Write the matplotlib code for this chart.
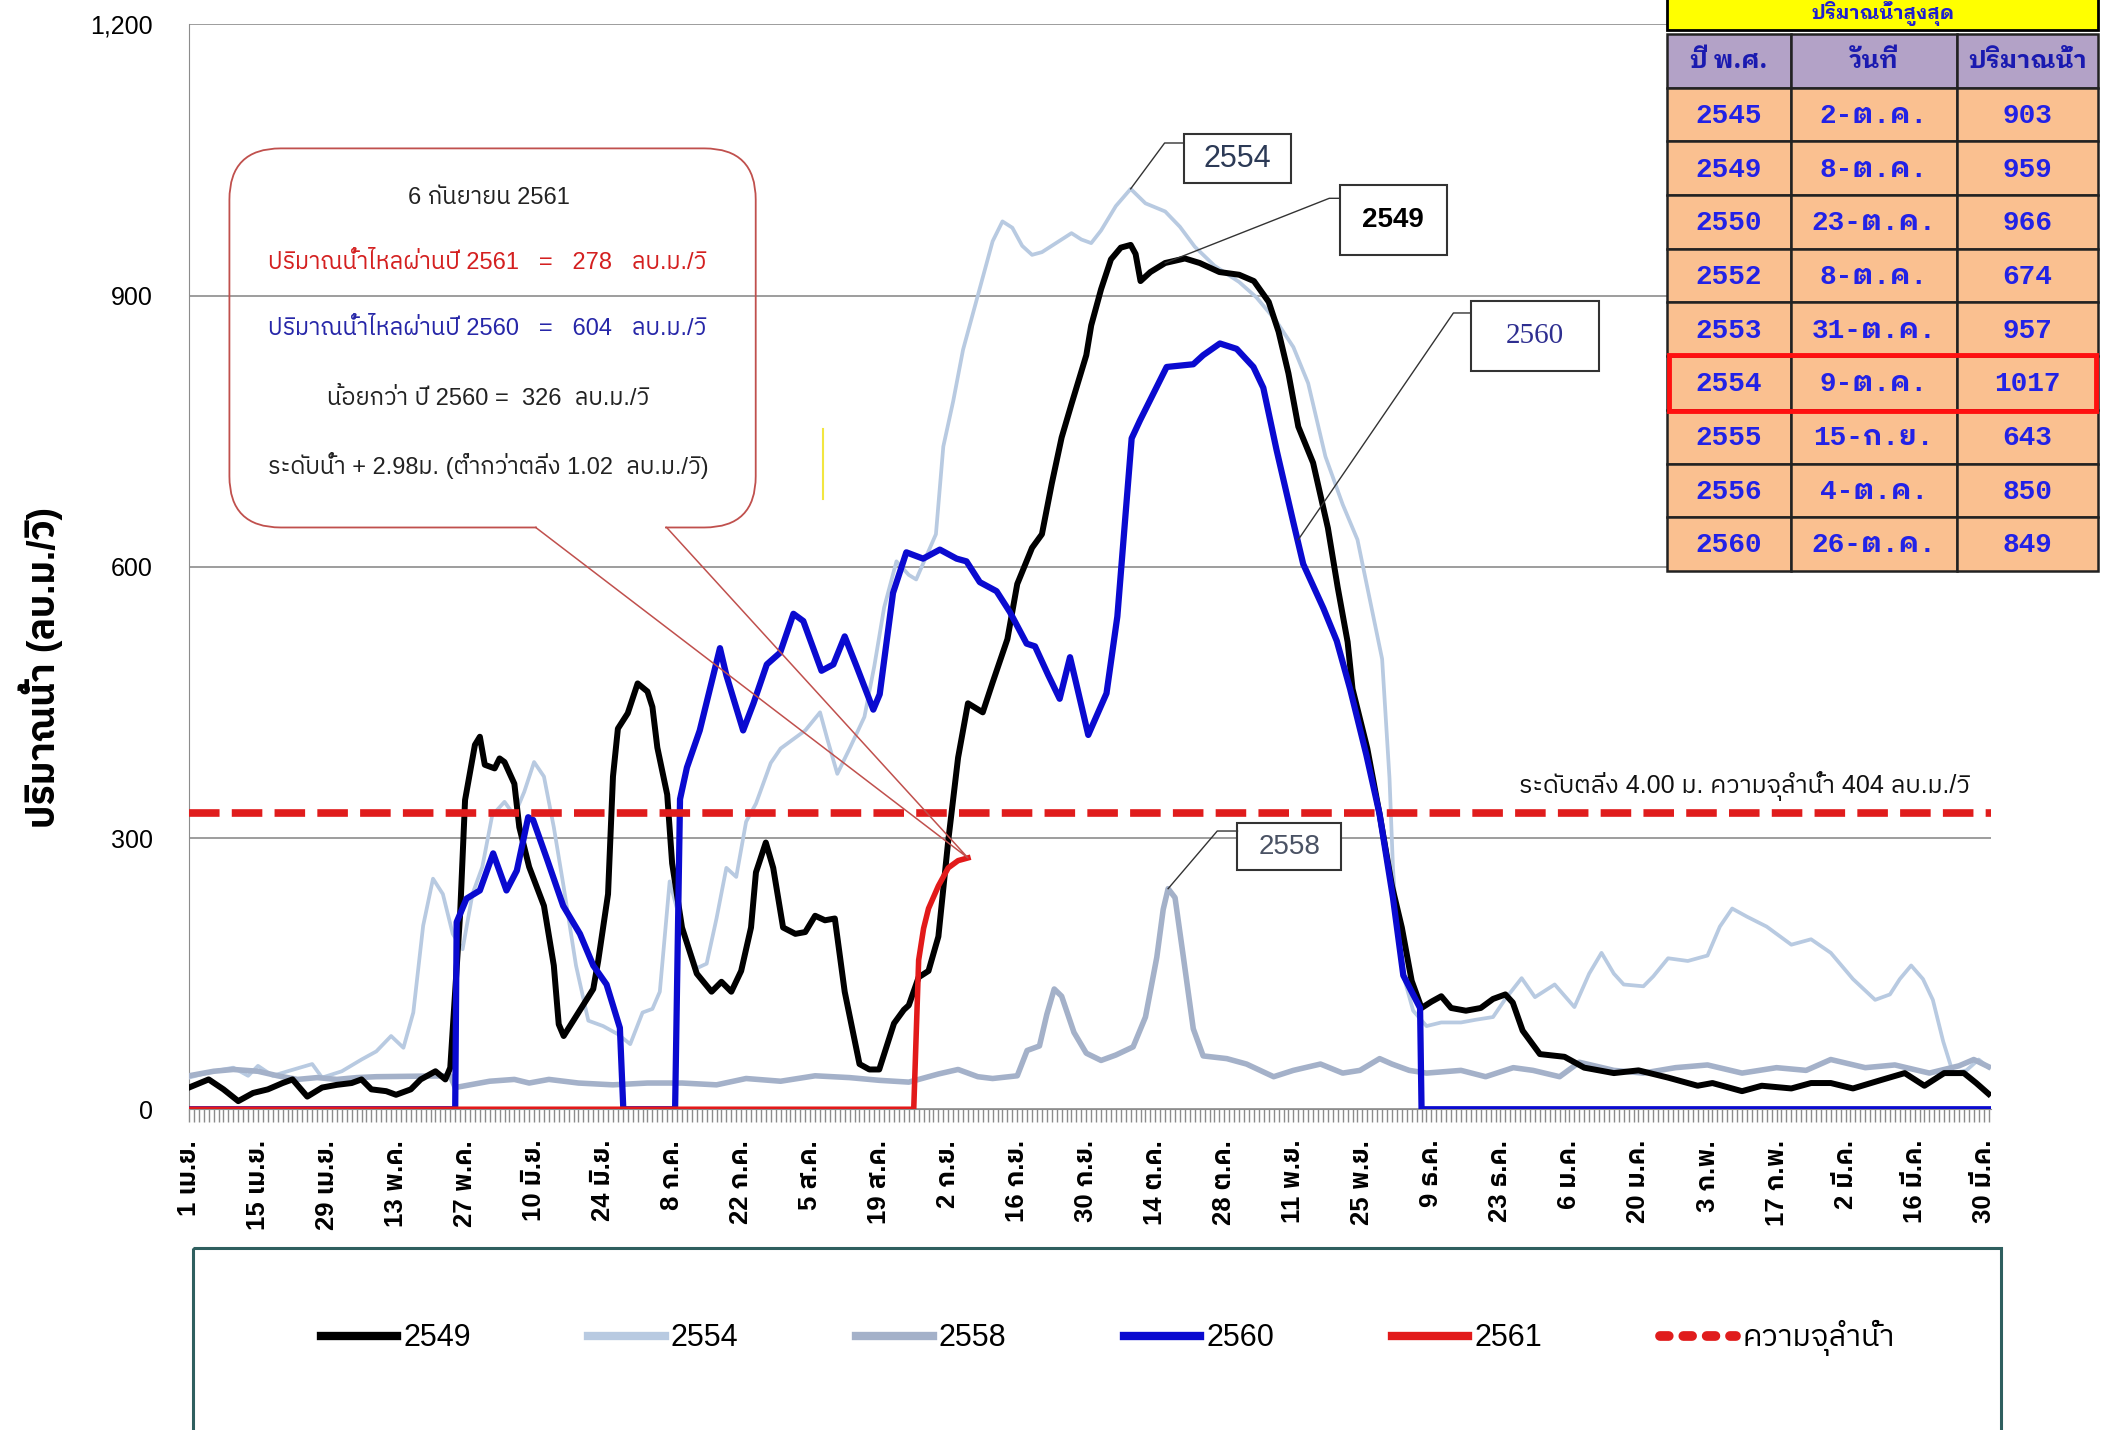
import numpy as np
import matplotlib
matplotlib.use('Agg')
from matplotlib import pyplot as plt
from matplotlib import font_manager
from matplotlib.ft2font import FT2Font
from matplotlib.patches import Rectangle, FancyBboxPatch
from matplotlib.lines import Line2D

# ---- fonts: find something that has Thai glyphs (and a bold face)
thai_weights = {}
for f in font_manager.fontManager.ttflist:
    try:
        if 0x0E01 in FT2Font(f.fname).get_charmap():
            w = f.weight if isinstance(f.weight, int) else 400
            thai_weights.setdefault(f.name, set()).add(w)
    except Exception:
        pass
pref = ['Noto Sans Thai', 'IBM Plex Sans Thai', 'Sarabun', 'Anuphan', 'Krub', 'K2D', 'Loma']
with_bold = [p for p in pref if p in thai_weights and max(thai_weights[p]) >= 600]
THAI = with_bold[0] if with_bold else next((p for p in pref if p in thai_weights),
                                           sorted(thai_weights)[0] if thai_weights else 'DejaVu Sans')
LOOPED = 'IBM Plex Sans Thai Looped' if 'IBM Plex Sans Thai Looped' in thai_weights else THAI
names = {f.name for f in font_manager.fontManager.ttflist}
NARROW = 'Liberation Sans Narrow' if 'Liberation Sans Narrow' in names else 'Liberation Sans'
plt.rcParams['font.family'] = ['Liberation Sans', THAI, 'DejaVu Sans']

# ---- data (day 0 = 1 เม.ย.)
tick_days = np.arange(0, 365, 14)
tick_labels = ['1 เม.ย.', '15 เม.ย.', '29 เม.ย.', '13 พ.ค.', '27 พ.ค.', '10 มิ.ย.', '24 มิ.ย.',
               '8 ก.ค.', '22 ก.ค.', '5 ส.ค.', '19 ส.ค.', '2 ก.ย.', '16 ก.ย.', '30 ก.ย.',
               '14 ต.ค.', '28 ต.ค.', '11 พ.ย.', '25 พ.ย.', '9 ธ.ค.', '23 ธ.ค.', '6 ม.ค.',
               '20 ม.ค.', '3 ก.พ.', '17 ก.พ.', '2 มี.ค.', '16 มี.ค.', '30 มี.ค.']

d2549 = [0, 4, 7, 10, 13, 16, 19, 21, 24, 27, 30, 33, 35, 37, 40, 42, 45, 47, 50, 52, 53, 55, 56, 58, 59,
         60, 62, 63, 64, 66, 67, 69, 72, 74, 75, 76, 79, 82, 83, 85, 86, 87, 89, 91, 93, 94, 95, 97, 98,
         100, 103, 106, 108, 110, 112, 114, 115, 117, 118.5, 120.5, 123, 125, 127, 129, 131, 133, 136,
         138, 140, 143, 145, 146, 148, 150, 152, 154, 156, 158, 161, 163, 166, 168, 171, 173, 175, 177,
         179, 182, 183, 185, 187, 189, 191, 192, 193, 195, 198, 202, 205, 209, 213, 216, 219, 221, 223,
         225, 228, 231, 233, 235, 236, 239, 241.5, 244, 246, 248, 250, 252, 254, 256, 259, 262, 264.5,
         267, 268.5, 270.5, 274, 279, 283, 289, 294, 300, 306, 309, 315, 319, 325, 329, 333, 337.5, 343,
         348, 352, 356, 360, 362.5, 365]
v2549 = [24, 33, 22, 9, 18, 22, 29, 33, 14, 24, 27, 29, 33, 22, 20, 16, 22, 33, 42, 33, 46, 216, 342, 403,
         412, 381, 377, 388, 384, 360, 312, 268, 225, 159, 94, 81, 107, 133, 164, 238, 368, 421, 438, 471,
         462, 445, 400, 348, 272, 201, 150, 130, 141, 130, 153, 201, 262, 295, 267, 201, 194, 196, 214,
         209, 211, 130, 50, 44, 44, 95, 110, 115, 146, 153, 191, 297, 389, 449, 439, 472, 520, 581, 621,
         636, 692, 743, 780, 834, 867, 907, 940, 953, 956, 946, 916, 926, 936, 941, 936, 926, 923, 916,
         893, 860, 814, 755, 715, 643, 577, 517, 465, 399, 326, 247, 201, 142, 112, 119, 125, 112, 109,
         112, 122, 127, 118, 87, 61, 58, 46, 40, 43, 35, 26, 29, 20, 26, 23, 29, 29, 23, 32, 40, 26, 40,
         40, 29, 17]

d2554 = [0, 5, 9, 12, 14, 17, 20, 25, 27, 31, 35, 38, 41, 43.5, 45.5, 47.5, 49.5, 51.5, 53.5, 55.5, 57.5,
         59.5, 61.5, 64, 66, 68, 70, 72, 74, 76, 78.5, 81, 84, 87, 89.5, 92, 94, 95.5, 97.5, 100, 103, 105,
         107, 109, 111, 113, 115, 118, 120, 122.5, 125, 128, 129.5, 131.5, 134, 137, 139, 141, 143.5, 146,
         147.5, 149.5, 151.5, 153, 155, 157, 159, 161, 163, 165, 167, 169, 171, 173, 175, 177, 179, 181,
         183, 185, 188, 191, 194, 198, 201, 204, 208, 213, 216.5, 220.5, 224, 227, 230.5, 234, 237, 239.5,
         242, 243.5, 244.2, 245, 246.3, 248.3, 251, 254, 258, 261, 264.5, 267, 270.3, 273, 277, 281, 284,
         286.5, 289, 291, 295, 297, 300, 304, 308, 310.5, 313, 316, 320, 325, 329, 333, 337.5, 342, 345,
         347, 349.3, 351.7, 353.7, 355.8, 357.8, 360.5, 363, 365]
v2554 = [35, 42, 46, 37, 48, 37, 42, 50, 35, 42, 55, 64, 81, 68, 107, 203, 255, 238, 194, 177, 238, 268, 325,
         340, 325, 351, 384, 368, 312, 246, 159, 98, 92, 83, 72, 107, 111, 130, 252, 201, 156, 161, 211,
         267, 257, 318, 338, 383, 399, 409, 419, 439, 409, 371, 399, 434, 490, 555, 606, 591, 586, 611,
         636, 733, 783, 840, 880, 920, 960, 982, 975, 955, 945, 948, 955, 962, 969, 962, 958, 972, 999,
         1018, 1002, 993, 976, 954, 933, 915, 898, 872, 843, 803, 722, 669, 630, 564, 498, 366, 267, 201,
         148, 109, 92, 96, 96, 99, 102, 122, 145, 124, 138, 113, 150, 173, 150, 138, 136, 147, 167, 164,
         170, 202, 222, 213, 202, 182, 188, 173, 144, 121, 127, 144, 159, 144, 121, 75, 40, 43, 55, 46]

d2558 = [0, 5, 9, 14, 18, 22, 26, 30, 34, 38, 53, 54, 57, 61, 66, 69, 73, 79, 86, 93, 100, 107, 113, 120,
         127, 134, 140, 146, 152, 156, 160, 163, 168, 170, 172.5, 174, 175.5, 177, 179.5, 182, 185, 188,
         191.5, 194, 196.3, 197.6, 198.6, 200, 201.7, 203.7, 205.7, 210.5, 214.5, 220, 224, 229.5, 234,
         237.5, 241.5, 244, 247.5, 251, 258, 263, 268.6, 272.6, 278, 282, 289, 295, 301.5, 308, 315, 322,
         328, 333, 340, 346, 353, 359, 362, 365]
v2558 = [37, 42, 44, 42, 37, 33, 35, 33, 35, 36, 37, 24, 27, 31, 33, 29, 33, 29, 27, 29, 29, 27, 34, 31, 37,
         35, 32, 30, 39, 44, 36, 34, 37, 65, 70, 105, 133, 125, 85, 62, 54, 60, 69, 102, 168, 221, 244, 234,
         168, 89, 59, 56, 50, 36, 43, 50, 40, 43, 56, 50, 43, 40, 43, 36, 46, 43, 36, 52, 43, 40, 46, 49,
         40, 46, 43, 55, 46, 49, 40, 48, 55, 47]

d2560 = [0, 54, 54.3, 56.3, 59, 61.7, 64.4, 66.5, 68.8, 69.8, 72.6, 75.9, 79.3, 82, 84.7, 87.4, 88.1, 98.6,
         99.6, 101, 103.6, 107.7, 109, 112.4, 114.5, 117.2, 119.9, 122.6, 124.6, 128.3, 130.7, 133, 135.4,
         138.8, 140.1, 142.8, 145.5, 148.9, 152.3, 155.7, 157.7, 160.4, 163.8, 166.5, 169.9, 171.6, 174.3,
         176.6, 178.7, 180, 182.4, 186.1, 188.3, 191.2, 192.9, 198.3, 203.7, 205.7, 209.1, 212.5, 215.9,
         217.9, 220.6, 224, 226, 230.1, 232.8, 235.5, 238.8, 241.5, 244.2, 246.3, 249.7, 250, 365]
v2560 = [0, 0, 207, 233, 242, 283, 242, 264, 323, 320, 277, 225, 194, 159, 138, 90, 0, 0, 343, 378, 419,
         510, 480, 419, 449, 492, 505, 548, 540, 485, 492, 523, 490, 442, 459, 571, 616, 609, 619, 609,
         606, 583, 573, 550, 515, 512, 480, 454, 500, 470, 414, 460, 545, 742, 762, 821, 824, 834, 847,
         841, 821, 798, 729, 649, 603, 554, 518, 465, 392, 326, 234, 148, 112, 0, 0]

d2561 = [0, 147, 148, 149, 150, 152, 154, 156, 158]
v2561 = [0, 0, 165, 200, 222, 247, 267, 275, 278]

bank_flow = 328   # where the dashed bank-full line sits on the chart

peak_years = ['2545', '2549', '2550', '2552', '2553', '2554', '2555', '2556', '2560']
peak_dates = ['2-ต.ค.', '8-ต.ค.', '23-ต.ค.', '8-ต.ค.', '31-ต.ค.', '9-ต.ค.', '15-ก.ย.', '4-ต.ค.', '26-ต.ค.']
peak_flows = [903, 959, 966, 674, 957, 1017, 643, 850, 849]

c2549, c2554, c2558, c2560, c2561 = 'black', '#b8cae1', '#a4b1c9', '#0a0ad0', '#e21a1a'

fig = plt.figure(figsize=(21.16, 14.30), dpi=100)
ax = fig.add_axes([0.0893, 0.2243, 0.8514, 0.7587])
ax.plot(d2554, v2554, color=c2554, lw=2.7, zorder=3)
ax.plot(d2558, v2558, color=c2558, lw=4, zorder=3)
ax.plot(d2549, v2549, color=c2549, lw=4.3, zorder=4)
ax.plot(d2560, v2560, color=c2560, lw=4.5, zorder=5)
ax.plot(d2561, v2561, color=c2561, lw=4, zorder=6)
ax.axhline(bank_flow, color='#e01c1c', lw=5.5, ls=(0, (4, 1.6)), zorder=7)
ax.text(361.2, 358, 'ระดับตลิ่ง 4.00 ม. ความจุลำน้ำ 404 ลบ.ม./วิ', ha='right', va='center',
        fontsize=18, color='#111111')

ax.set_xlim(0, 365.4)
ax.set_ylim(0, 1200)
ax.set_yticks([0, 300, 600, 900, 1200])
ax.set_yticklabels(['0', '300', '600', '900', '1,200'])
ax.yaxis.grid(True, color='#8c8c8c', lw=1.2)
ax.set_axisbelow(True)
ax.tick_params(axis='y', length=0, pad=26, labelsize=18)
ax.set_xticks(tick_days)
ax.set_xticklabels(tick_labels, rotation=90, fontsize=18.5, fontweight='bold')
ax.set_xticks(np.arange(0, 366), minor=True)
ax.tick_params(axis='x', which='both', length=9, color='#8c8c8c', width=1, pad=13)
for s in ['top', 'right']:
    ax.spines[s].set_visible(False)
for s in ['left', 'bottom']:
    ax.spines[s].set_color('#8c8c8c')
ax.set_ylabel('ปริมาณน้ำ (ลบ.ม./วิ)', fontsize=27, fontweight='bold')
ax.yaxis.set_label_coords(-0.07, 0.407)

# ---- overlay in screen-like coordinates for boxes, table, legend frame
ov = fig.add_axes([0, 0, 1, 1], zorder=5)
ov.set_xlim(0, 1568)
ov.set_ylim(1060, 0)
ov.axis('off')

def to_ov(x, y):
    return ov.transData.inverted().transform(ax.transData.transform((x, y)))

# callout
ov.add_patch(FancyBboxPatch((170, 110), 390, 281, boxstyle='round,pad=0,rounding_size=38',
                            fill=False, edgecolor='#c0504d', lw=1.3))
ov.plot([398, 493], [391, 391], color='white', lw=3, solid_capstyle='butt')
tip = to_ov(d2561[-1], v2561[-1])
ov.plot([397, tip[0], 494], [391, tip[1], 391], color='#c0504d', lw=1.1)
ov.text(362, 147, '6 กันยายน 2561', ha='center', va='center', fontsize=17, color='#222222')
ov.text(361, 195, 'ปริมาณน้ำไหลผ่านปี 2561   =   278   ลบ.ม./วิ', ha='center', va='center',
        fontsize=17, color='#d42020')
ov.text(361, 244, 'ปริมาณน้ำไหลผ่านปี 2560   =   604   ลบ.ม./วิ', ha='center', va='center',
        fontsize=17, color='#2626a8')
ov.text(362, 296, 'น้อยกว่า ปี 2560 =  326  ลบ.ม./วิ', ha='center', va='center', fontsize=17,
        color='#222222')
ov.text(362, 345, 'ระดับน้ำ + 2.98ม. (ต่ำกว่าตลิ่ง 1.02  ลบ.ม./วิ)', ha='center', va='center',
        fontsize=17, color='#222222')
ov.plot([610, 610], [318, 370], color='#f2e640', lw=1.5)

# series labels with leader lines
def tag(text, box, anchor, bend, color, **kw):
    x0, y0, x1, y1 = box
    ov.add_patch(Rectangle((x0, y0), x1 - x0, y1 - y0, facecolor='white', edgecolor='#333333', lw=1.5))
    ov.text((x0 + x1) / 2, (y0 + y1) / 2, text, ha='center', va='center', color=color, **kw)
    a = to_ov(*anchor)
    ov.plot([a[0], bend[0], x0], [a[1], bend[1], bend[1]], color='#333333', lw=1)

tag('2554', (877, 99, 957, 136), (191, 1018), (863, 106), '#2c3a56', fontsize=22)
tag('2549', (993, 137, 1072, 189), (198, 936), (985, 147), 'black', fontsize=20, fontweight='bold')
tag('2560', (1090, 223, 1185, 275), (225, 630), (1077, 232), '#2e2e90', fontsize=21,
    family='Liberation Serif')
tag('2558', (917, 610, 994, 645), (198.6, 244), (902, 616), '#4a5264', fontsize=20)

# peak table
cols = [1235, 1327, 1450, 1555]
ov.add_patch(Rectangle((1235, -30), 320, 52, facecolor='#ffff00', edgecolor='black', lw=2))
ov.text(1395, 10, 'ปริมาณน้ำสูงสุด', ha='center', va='center', fontsize=14, color='#1f1fd0',
        fontweight='bold', family=[LOOPED, THAI])
for j, h in enumerate(['ปี พ.ศ.', 'วันที่', 'ปริมาณน้ำ']):
    ov.add_patch(Rectangle((cols[j], 25), cols[j + 1] - cols[j], 40, facecolor='#b3a2c7',
                           edgecolor='#222222', lw=1.8))
    ov.text((cols[j] + cols[j + 1]) / 2, 45, h, ha='center', va='center', fontsize=18,
            color='#1a1ab0', fontweight='bold', family=[LOOPED, THAI])
rh = 39.8
for i, row in enumerate(zip(peak_years, peak_dates, [str(v) for v in peak_flows])):
    top = 65 + i * rh
    for j, t in enumerate(row):
        ov.add_patch(Rectangle((cols[j], top), cols[j + 1] - cols[j], rh, facecolor='#fac090',
                               edgecolor='#222222', lw=1.8))
        ov.text((cols[j] + cols[j + 1]) / 2, top + rh / 2 + 1, t, ha='center', va='center',
                fontsize=20, color='#2222e6', fontweight='bold',
                family=['Liberation Mono', LOOPED, THAI])
imax = int(np.argmax(peak_flows))
ov.add_patch(Rectangle((1237, 65 + imax * rh - 1), 316, rh + 2, fill=False, edgecolor='#ff1010', lw=3.5))

# legend frame + legend
ov.add_patch(Rectangle((143, 925), 1340, 160, fill=False, edgecolor='#2f5f5f', lw=2.2))
handles = [Line2D([], [], color=c2549, lw=6), Line2D([], [], color=c2554, lw=6),
           Line2D([], [], color=c2558, lw=6), Line2D([], [], color=c2560, lw=6),
           Line2D([], [], color=c2561, lw=6),
           Line2D([], [], color='#e01c1c', lw=7, ls=(0, (0.9, 1.5)), dash_capstyle='round')]
fig.legend(handles, ['2549', '2554', '2558', '2560', '2561', 'ความจุลำน้ำ'], ncol=6, loc='center',
           bbox_to_anchor=(0.5235, 0.0642), frameon=False, handlelength=2.5, handletextpad=0.2,
           columnspacing=3.85, prop={'family': [NARROW, THAI], 'size': 22})

fig.savefig('out.png', dpi=100)
